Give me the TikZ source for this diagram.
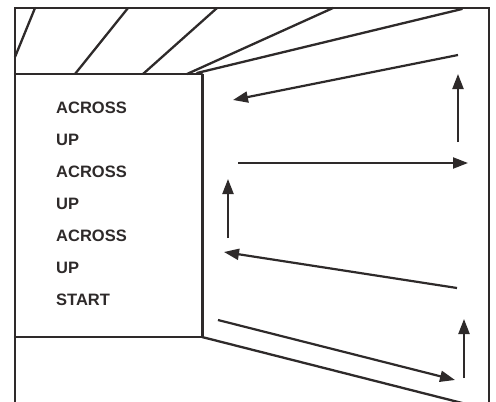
\documentclass[tikz,border=0pt]{standalone}
\usepackage{fontspec}
\setmainfont{Liberation Sans}
\usetikzlibrary{arrows.meta}
\definecolor{ink}{HTML}{2E2A2A}
\tikzset{
  wall/.style={draw=ink, line width=2.3pt, line cap=round, line join=miter},
  edge/.style={draw=ink, line width=3pt},
  mv/.style={draw=ink, line width=2.2pt, -{Triangle[length=15pt,width=11pt]}},
  lbl/.style={anchor=west, inner sep=0pt, text=ink, font=\fontsize{16.5pt}{16.5pt}\selectfont\bfseries}
}
\begin{document}
\begin{tikzpicture}[x=1pt,y=-1pt]
\useasboundingbox (0,0) rectangle (496,402);
\fill[white] (0,0) rectangle (496,402);
\begin{scope}
\clip (0,0) rectangle (496,402);
% outer frame
\coordinate (fbl) at (15,404);
\coordinate (ftl) at (15,8);
\coordinate (ftr) at (489,8);
\coordinate (fbr) at (489,404);
\draw[wall] (fbl) -- (ftl) -- (ftr) -- (fbr);
% panel
\coordinate (ptl) at (15,74);
\coordinate (ptr) at (202,74);
\coordinate (pbr) at (202,337);
\coordinate (pbl) at (15,337);
\draw[wall] (ptl) -- (ptr);
\draw[wall] (pbl) -- (pbr);
\draw[edge] (ptr) -- (pbr);
% ceiling lines
\coordinate (c1a) at (15,57);  \coordinate (c1b) at (35,8);
\coordinate (c2a) at (75,74);  \coordinate (c2b) at (128,8);
\coordinate (c3a) at (143,74); \coordinate (c3b) at (217,8);
\coordinate (c4a) at (187,74); \coordinate (c4b) at (333,8);
\coordinate (c5a) at (197,73); \coordinate (c5b) at (462,9);
\draw[wall] (c1a) -- (c1b);
\draw[wall] (c2a) -- (c2b);
\draw[wall] (c3a) -- (c3b);
\draw[wall] (c4a) -- (c4b);
\draw[wall] (c5a) -- (c5b);
% floor line
\coordinate (fl) at (470,405);
\draw[wall] (pbr) -- (fl);
\end{scope}
% labels
\node[lbl] (t1) at (56,108) {ACROSS};
\node[lbl] (t2) at (56,140) {UP};
\node[lbl] (t3) at (56,172) {ACROSS};
\node[lbl] (t4) at (56,204) {UP};
\node[lbl] (t5) at (56,236) {ACROSS};
\node[lbl] (t6) at (56,268) {UP};
\node[lbl] (t7) at (56,300) {START};
% moves
\coordinate (a1s) at (458,55);  \coordinate (a1e) at (233,100);
\coordinate (a2s) at (458,142); \coordinate (a2e) at (458,74);
\coordinate (a3s) at (238,163); \coordinate (a3e) at (468,163);
\coordinate (a4s) at (228,238); \coordinate (a4e) at (228,179);
\coordinate (a5s) at (457,288); \coordinate (a5e) at (224,252);
\coordinate (a6s) at (218,320); \coordinate (a6e) at (455,380);
\coordinate (a7s) at (464,378); \coordinate (a7e) at (464,319);
\draw[mv] (a1s) -- (a1e);
\draw[mv] (a2s) -- (a2e);
\draw[mv] (a3s) -- (a3e);
\draw[mv] (a4s) -- (a4e);
\draw[mv] (a5s) -- (a5e);
\draw[mv] (a6s) -- (a6e);
\draw[mv] (a7s) -- (a7e);
\end{tikzpicture}
\end{document}
